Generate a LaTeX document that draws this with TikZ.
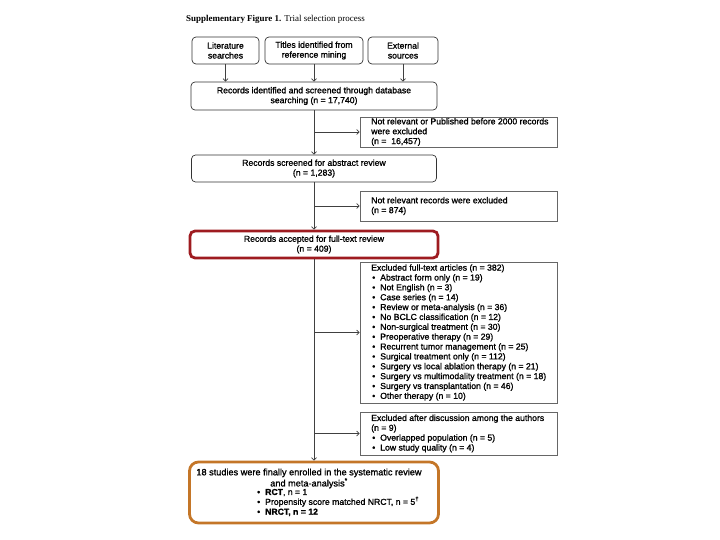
\documentclass[tikz,border=0pt]{standalone}
\usepackage{fontspec}
\setmainfont{Liberation Sans}[FakeBold=1.2]
\newfontfamily\titlefont{Liberation Serif}
\usetikzlibrary{arrows.meta}
\definecolor{redbox}{RGB}{158,27,32}
\definecolor{orbox}{RGB}{196,118,40}
\newcommand\mybul{\hspace*{1bp}\makebox[8bp][l]{\textbullet}}
\begin{document}
\begin{tikzpicture}[x=1bp,y=-1bp,
  font=\fontsize{8.7}{9.9}\selectfont,
  rbox/.style={draw=black!80, line width=0.7bp, rounded corners=4bp, inner sep=0pt, align=center},
  xbox/.style={draw=black!60, line width=0.9bp, inner sep=0pt, minimum width=197bp},
  xtext/.style={anchor=west, inner sep=0pt, align=left},
  arr/.style={draw=black!75, line width=0.7bp, -{Straight Barb[length=2.5bp,width=5bp]}},
]
\useasboundingbox (0,0) rectangle (720,540);
\node[anchor=base west, inner sep=0pt, font=\titlefont\fontsize{9}{11}\selectfont] (title) at (186,22)
  {\textbf{Supplementary Figure 1.} Trial selection process};

% top sources
\node[rbox, minimum width=67bp, minimum height=27bp] (lit) at (225.5,50.5) {Literature\\searches};
\node[rbox, minimum width=98bp, minimum height=27bp] (tit) at (314,50.5) {Titles identified from\\reference mining};
\node[rbox, minimum width=70bp, minimum height=27bp] (ext) at (403,50.5) {External\\sources};

% main column
\node[rbox, minimum width=246bp, minimum height=28bp] (rid) at (314,96)
  {Records identified and screened through database\\searching (n = 17,740)};
\node[rbox, minimum width=245bp, minimum height=27bp] (scr) at (314,168.5)
  {Records screened for abstract review\\(n = 1,283)};
\node[rbox, draw=redbox, line width=2.8bp, rounded corners=5bp, minimum width=248bp, minimum height=27bp] (acc) at (314,244.5)
  {Records accepted for full-text review\\(n = 409)};
\node[rbox, draw=orbox, line width=2.8bp, rounded corners=9bp, minimum width=249bp, minimum height=61bp] (fin) at (314,492.5) {};
\node[inner sep=0pt, align=center, font=\fontsize{9.2}{9.9}\selectfont] (finh) at (309,478.5)
  {18 studies were finally enrolled in the systematic review\\and meta-analysis\textsuperscript{*}};
\node[xtext] (finl) at (256,502.5)
  {\mybul\textbf{RCT}, n = 1\\
   \mybul Propensity score matched NRCT, n = 5\textsuperscript{\textdagger}\\
   \mybul\textbf{NRCT, n = 12}};

% exclusion boxes
\node[xbox, minimum height=30bp] (ex1) at (458.5,132) {};
\node[xtext] (ex1t) at ([xshift=11.5bp]ex1.west)
  {Not relevant or Published before 2000 records\\were excluded\\(n =\ \ 16,457)};
\node[xbox, minimum height=30bp] (ex2) at (458.5,206) {};
\node[xtext] (ex2t) at ([xshift=11.5bp]ex2.west)
  {Not relevant records were excluded\\(n = 874)};
\node[xbox, minimum height=141bp] (ex3) at (458.5,332.5) {};
\node[xtext] (ex3t) at ([xshift=11.5bp]ex3.west)
  {Excluded full-text articles (n = 382)\\
   \mybul Abstract form only (n = 19)\\
   \mybul Not English (n = 3)\\
   \mybul Case series (n = 14)\\
   \mybul Review or meta-analysis (n = 36)\\
   \mybul No BCLC classification (n = 12)\\
   \mybul Non-surgical treatment (n = 30)\\
   \mybul Preoperative therapy (n = 29)\\
   \mybul Recurrent tumor management (n = 25)\\
   \mybul Surgical treatment only (n = 112)\\
   \mybul Surgery vs local ablation therapy (n = 21)\\
   \mybul Surgery vs multimodality treatment (n = 18)\\
   \mybul Surgery vs transplantation (n = 46)\\
   \mybul Other therapy (n = 10)};
\node[xbox, minimum height=43bp] (ex4) at (458.5,433.5) {};
\node[xtext] (ex4t) at ([xshift=11.5bp]ex4.west)
  {Excluded after discussion among the authors\\(n = 9)\\
   \mybul Overlapped population (n = 5)\\
   \mybul Low study quality (n = 4)};

% connectors
\draw[arr] (lit.south) -- (lit.south |- rid.north);
\draw[arr] (tit.south) -- (tit.south |- rid.north);
\draw[arr] (ext.south) -- (ext.south |- rid.north);
\draw[arr] (rid.south) -- (scr.north);
\draw[arr] (scr.south) -- (acc.north);
\draw[arr] (acc.south) -- (fin.north);
\draw[arr] (rid.south |- ex1.west) -- (ex1.west);
\draw[arr] (scr.south |- ex2.west) -- (ex2.west);
\draw[arr] (acc.south |- ex3.west) -- (ex3.west);
\draw[arr] (acc.south |- ex4.west) -- (ex4.west);
\end{tikzpicture}
\end{document}
